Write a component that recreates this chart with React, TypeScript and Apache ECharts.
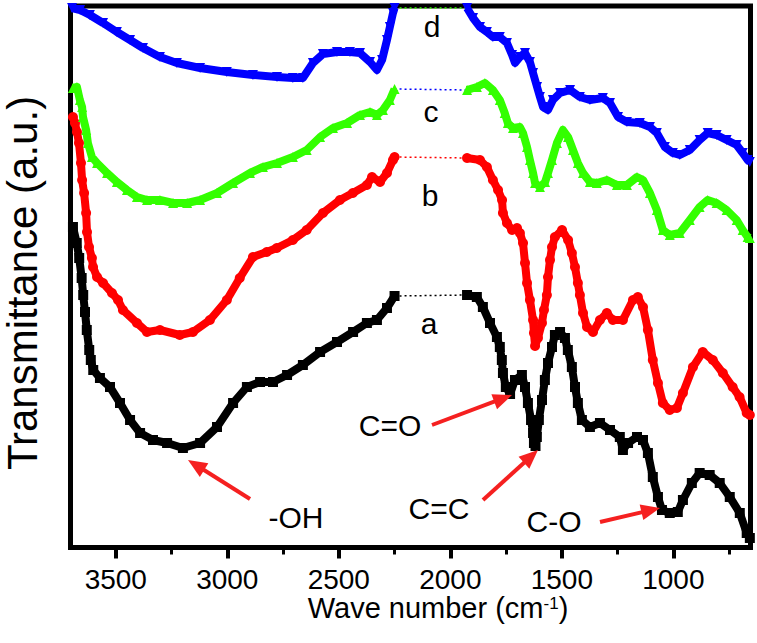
import React, { useEffect, useRef } from "react";
import * as echarts from "echarts";

const FONT = '"Liberation Sans", Arial, Helvetica, sans-serif';

// x axis (wave number, cm-1)
const xTickValues = [1000, 1500, 2000, 2500, 3000, 3500];
const xMinorTickValues = [750, 1250, 1750, 2250, 2750, 3250];

// series a (black squares)
const waveA = [3692, 3675, 3664, 3653, 3646, 3638, 3630, 3619, 3612, 3601, 3571, 3526, 3481, 3436, 3391, 3333, 3270, 3199, 3122, 3046, 2974, 2912, 2853, 2795, 2732, 2661, 2584, 2508, 2436, 2374, 2329, 2284, 2250,
  1925, 1881, 1854, 1822, 1791, 1778, 1769, 1764, 1751, 1732, 1710, 1679, 1665, 1652, 1638, 1629, 1625, 1618, 1612, 1603, 1589, 1576, 1562, 1544, 1531, 1508, 1486, 1473, 1455, 1441, 1428, 1410, 1374, 1329, 1284, 1240, 1226, 1203, 1163, 1136, 1114, 1092, 1069, 1051, 1016, 980, 957, 917, 882, 837, 792, 747, 702, 671, 657];
const transA = [64.6, 61.4, 58.4, 54.4, 51.0, 47.6, 44.0, 40.0, 38.0, 36.0, 34.4, 32.6, 29.4, 26.0, 23.4, 22.0, 21.4, 20.4, 21.4, 24.6, 29.4, 32.6, 33.6, 33.6, 35.0, 37.0, 39.6, 41.6, 43.6, 45.4, 46.0, 48.4, 50.8,
  51.0, 50.6, 48.6, 45.4, 42.6, 40.6, 38.0, 35.4, 32.6, 31.2, 34.0, 35.0, 32.6, 29.4, 26.0, 23.4, 21.4, 20.8, 22.6, 26.0, 30.0, 34.0, 37.4, 40.6, 43.0, 43.6, 42.4, 40.0, 36.6, 32.6, 29.4, 26.0, 24.6, 25.4, 24.0, 22.6, 20.0, 21.4, 22.6, 22.0, 19.4, 14.6, 10.6, 8.0, 7.4, 7.6, 10.0, 13.4, 15.4, 15.0, 13.4, 10.6, 7.4, 3.4, 2.4];

// series b (red circles)
const waveB = [3692, 3683, 3674, 3665, 3656, 3651, 3642, 3633, 3629, 3620, 3607, 3602, 3584, 3557, 3517, 3490, 3468, 3405, 3360, 3302, 3213, 3154, 3078, 3002, 2944, 2885, 2823, 2778, 2706, 2644, 2571, 2495, 2437, 2374, 2351, 2315, 2284, 2257, 2250,
  1925, 1867, 1836, 1809, 1786, 1768, 1764, 1746, 1723, 1701, 1688, 1674, 1665, 1656, 1643, 1629, 1625, 1620, 1607, 1589, 1580, 1567, 1562, 1553, 1544, 1531, 1499, 1472, 1455, 1441, 1428, 1419, 1405, 1387, 1360, 1329, 1298, 1271, 1226, 1181, 1159, 1136, 1114, 1092, 1069, 1047, 1016, 984, 957, 912, 868, 823, 778, 734, 703, 671, 657];
const transB = [86.6, 85.4, 83.6, 81.4, 77.4, 74.0, 71.4, 67.4, 63.6, 60.6, 58.4, 56.6, 54.6, 53.4, 51.4, 50.0, 48.0, 45.4, 43.6, 44.0, 43.0, 43.6, 46.0, 50.0, 54.4, 58.6, 59.6, 60.4, 62.0, 64.0, 67.4, 70.0, 71.4, 73.0, 74.6, 73.6, 75.4, 78.0, 78.6,
  78.4, 78.0, 76.6, 74.0, 72.0, 70.0, 67.4, 65.4, 64.0, 64.4, 63.4, 61.4, 57.4, 53.4, 50.0, 46.0, 43.4, 40.8, 42.4, 45.4, 48.0, 51.0, 54.6, 58.0, 60.6, 62.6, 64.0, 62.0, 59.4, 56.6, 53.4, 51.0, 47.4, 44.6, 43.6, 46.0, 47.4, 46.0, 46.0, 50.0, 50.6, 48.6, 44.0, 38.0, 33.4, 29.4, 28.0, 28.4, 31.4, 36.6, 39.6, 38.0, 35.4, 32.6, 30.6, 27.4, 27.0];

// series c (green triangles)
const waveC = [3692, 3674, 3661, 3651, 3647, 3633, 3625, 3607, 3584, 3539, 3495, 3450, 3405, 3360, 3302, 3243, 3180, 3122, 3046, 2974, 2898, 2840, 2777, 2706, 2644, 2584, 2526, 2463, 2405, 2360, 2329, 2302, 2271, 2250,
  1925, 1881, 1845, 1809, 1778, 1756, 1742, 1719, 1688, 1674, 1656, 1643, 1629, 1620, 1598, 1575, 1562, 1544, 1522, 1495, 1472, 1450, 1428, 1405, 1374, 1343, 1298, 1253, 1208, 1163, 1136, 1105, 1074, 1047, 1016, 971, 926, 882, 846, 806, 761, 716, 689, 667, 657];
const transC = [92.4, 92.6, 90.0, 88.6, 86.6, 84.0, 81.4, 78.6, 77.4, 75.4, 73.6, 72.0, 70.6, 70.0, 70.0, 69.4, 69.4, 70.0, 71.4, 73.4, 75.4, 76.6, 77.4, 78.6, 80.0, 82.6, 84.4, 85.4, 87.0, 87.6, 87.0, 88.0, 90.0, 92.2,
  92.0, 92.6, 93.4, 92.0, 90.0, 87.4, 85.4, 84.4, 84.6, 83.4, 80.6, 78.0, 75.4, 73.4, 72.6, 73.6, 75.4, 78.0, 81.4, 84.0, 82.6, 80.0, 77.4, 75.4, 73.6, 73.4, 74.0, 73.0, 73.0, 74.6, 74.0, 71.4, 68.0, 64.0, 63.0, 63.4, 66.0, 68.6, 70.0, 69.4, 68.0, 66.0, 64.0, 62.6, 62.4];

// series d (blue inverted triangles)
const waveD = [3696, 3660, 3616, 3557, 3495, 3436, 3378, 3302, 3226, 3122, 3002, 2885, 2777, 2706, 2661, 2616, 2571, 2508, 2450, 2405, 2360, 2329, 2306, 2284, 2271, 2257, 2250,
  1925, 1898, 1867, 1836, 1809, 1778, 1746, 1723, 1710, 1688, 1665, 1643, 1629, 1611, 1598, 1584, 1562, 1540, 1508, 1463, 1419, 1374, 1316, 1284, 1248, 1208, 1150, 1105, 1074, 1038, 1002, 971, 926, 882, 846, 806, 761, 716, 689, 667, 657];
const transD = [108.4, 108.0, 107.0, 105.4, 103.6, 102.0, 100.4, 98.6, 97.4, 96.4, 95.6, 95.0, 94.6, 94.4, 94.4, 97.4, 99.2, 99.6, 99.6, 99.4, 97.6, 96.0, 98.0, 102.0, 104.6, 107.4, 108.4,
  108.4, 106.4, 104.6, 103.6, 102.6, 102.6, 101.4, 99.0, 97.4, 98.6, 99.4, 97.6, 95.4, 92.6, 90.6, 88.6, 88.0, 90.0, 91.4, 92.0, 90.6, 90.0, 90.4, 89.4, 86.6, 85.6, 85.4, 84.6, 83.4, 80.6, 79.4, 79.0, 80.0, 82.0, 83.4, 83.0, 82.0, 81.0, 79.4, 78.0, 77.6];

const curveLabels = ["a", "b", "c", "d"];

const curves = [
  { name: "a", wave: waveA, trans: transA, color: "#000000", gapColor: "#000000", symbol: "rect", rotate: 0 },
  { name: "b", wave: waveB, trans: transB, color: "#ff0000", gapColor: "#ff0000", symbol: "circle", rotate: 0 },
  { name: "c", wave: waveC, trans: transC, color: "#33ff00", gapColor: "#0000ff", symbol: "triangle", rotate: 0 },
  { name: "d", wave: waveD, trans: transD, color: "#0000ff", gapColor: "#33ff00", symbol: "triangle", rotate: 180 },
];

// annotation layout (pixels)
const curveLabelPos = [[429, 323], [430, 195], [431, 111], [432, 26]];
const bandLabels = [
  { text: "-OH", pos: [296, 517], tail: [250, 499], tip: [188, 460] },
  { text: "C=O", pos: [390, 425], tail: [432, 425], tip: [512, 395] },
  { text: "C=C", pos: [439, 508], tail: [483, 500], tip: [538, 450] },
  { text: "C-O", pos: [554, 521], tail: [600, 522], tip: [660, 508] },
];

function buildSeries(c: any) {
  const pts: any[] = [];
  let gap: any[] = [];
  for (let i = 0; i < c.wave.length; i++) {
    pts.push([c.wave[i], c.trans[i]]);
    if (i + 1 < c.wave.length && c.wave[i] - c.wave[i + 1] > 200) {
      gap = [[c.wave[i], c.trans[i]], [c.wave[i + 1], c.trans[i + 1]]];
      pts.push([(c.wave[i] + c.wave[i + 1]) / 2, "-"]);
    }
  }
  return [
    {
      type: "line",
      name: c.name + "-gap",
      data: gap,
      symbol: "none",
      silent: true,
      lineStyle: { color: c.gapColor, width: 1.5, type: [2, 3] },
      z: 2,
    },
    {
      type: "line",
      name: c.name,
      data: pts,
      connectNulls: false,
      symbol: c.symbol,
      symbolSize: 10,
      symbolRotate: c.rotate,
      showAllSymbol: true,
      silent: true,
      itemStyle: { color: c.color, borderWidth: 0 },
      lineStyle: { color: c.color, width: 8, join: "round" },
      z: 3,
    },
  ];
}

function arrow(tail: number[], tip: number[], color: string) {
  const dx = tip[0] - tail[0];
  const dy = tip[1] - tail[1];
  const len = Math.sqrt(dx * dx + dy * dy);
  const ux = dx / len, uy = dy / len;
  const L = 19, W = 8;
  const bx = tip[0] - ux * L, by = tip[1] - uy * L;
  const nx = -uy, ny = ux;
  return [
    { type: "line", shape: { x1: tail[0], y1: tail[1], x2: bx + ux * 2, y2: by + uy * 2 }, style: { stroke: color, lineWidth: 4 }, z: 10 },
    { type: "polygon", shape: { points: [[tip[0], tip[1]], [bx + nx * W, by + ny * W], [bx - nx * W, by - ny * W]] }, style: { fill: color }, z: 10 },
  ];
}

export default function App() {
  const ref = useRef<HTMLDivElement>(null);
  useEffect(() => {
    if (!ref.current) return;
    const chart = echarts.init(ref.current, null, { renderer: "svg" });
    const series: any[] = [];
    curves.forEach((c) => series.push(...buildSeries(c)));

    const graphics: any[] = [];
    curveLabels.forEach((t, i) => {
      graphics.push({
        type: "text", x: curveLabelPos[i][0], y: curveLabelPos[i][1], z: 10,
        style: { text: t, fontSize: 30, fontFamily: FONT, fill: "#000", align: "center", verticalAlign: "middle" },
      });
    });
    bandLabels.forEach((b) => {
      graphics.push({
        type: "text", x: b.pos[0], y: b.pos[1], z: 10,
        style: { text: b.text, fontSize: 30, fontFamily: FONT, fill: "#000", align: "center", verticalAlign: "middle" },
      });
      graphics.push(...arrow(b.tail, b.tip, "#f52020"));
    });
    graphics.push({
      type: "text", x: 438, y: 608, z: 10,
      style: {
        text: "{n|Wave number (cm}{s|-1}{n|)}",
        align: "center", verticalAlign: "middle",
        rich: {
          n: { fontSize: 29, fontFamily: FONT, fill: "#000", lineHeight: 26 },
          s: { fontSize: 17, fontFamily: FONT, fill: "#000", verticalAlign: "top", lineHeight: 26 },
        },
      },
    });
    graphics.push({
      type: "text", x: 22, y: 283, rotation: Math.PI / 2, z: 10,
      style: { text: "Transmittance (a.u.)", fontSize: 42, fontFamily: FONT, fill: "#000", align: "center", verticalAlign: "middle" },
    });

    chart.setOption({
      animation: false,
      backgroundColor: "#ffffff",
      grid: {
        left: 70.5, right: 6.5, top: 6, bottom: 95.5, show: true, borderColor: "#000", borderWidth: 5,
        backgroundColor: "#fff", containLabel: false, outerBoundsMode: "none",
      },
      xAxis: [
        {
          type: "value", min: 654, max: 3703, inverse: true, position: "bottom",
          axisLine: { show: false }, splitLine: { show: false },
          axisTick: { show: true, customValues: xTickValues, length: 11, lineStyle: { color: "#000", width: 4 } },
          axisLabel: {
            customValues: xTickValues, fontSize: 28, color: "#000", fontFamily: FONT, margin: 20, lineHeight: 24,
            formatter: (v: number) => String(v),
          },
        },
        {
          type: "value", min: 654, max: 3703, inverse: true, position: "bottom",
          axisLine: { show: false }, splitLine: { show: false },
          axisTick: { show: true, customValues: xMinorTickValues, length: 7, lineStyle: { color: "#000", width: 3 } },
          axisLabel: { show: false },
        },
      ],
      yAxis: {
        type: "value", min: 0.5, max: 108.8,
        axisLine: { show: false }, axisTick: { show: false }, axisLabel: { show: false }, splitLine: { show: false },
      },
      series,
      graphic: graphics,
    });
    return () => chart.dispose();
  }, []);
  return <div ref={ref} style={{ position: "absolute", left: 0, top: 0, width: 757, height: 643 }} />;
}
